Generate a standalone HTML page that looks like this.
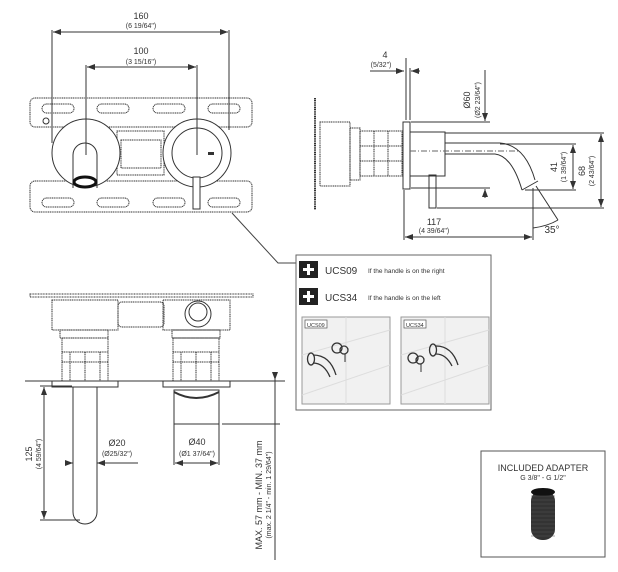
<!DOCTYPE html>
<html><head><meta charset="utf-8"><style>
html,body{margin:0;padding:0;background:#fff;}
svg{display:block;font-family:"Liberation Sans",sans-serif;}
</style></head><body>
<svg width="618" height="572" viewBox="0 0 618 572" xmlns="http://www.w3.org/2000/svg">
<defs>
<marker id="a" markerWidth="8" markerHeight="6" refX="8" refY="3" orient="auto-start-reverse" markerUnits="userSpaceOnUse"><path d="M0,0 L8,3 L0,6z" fill="#333"/></marker>
</defs>
<g fill="none" stroke="#333" stroke-width="1">
<!-- TOP VIEW -->
<rect x="30" y="98" width="222" height="29" rx="5" stroke-dasharray="1.2 0.6"/>
<rect x="30" y="181" width="222" height="31" rx="5" stroke-dasharray="1.2 0.6"/>
<g stroke-dasharray="1.2 0.6">
<rect x="42" y="104" width="32" height="9" rx="4.5"/><rect x="97" y="104" width="32" height="9" rx="4.5"/><rect x="153" y="104" width="32" height="9" rx="4.5"/><rect x="208" y="104" width="32" height="9" rx="4.5"/>
<rect x="42" y="198" width="32" height="9" rx="4.5"/><rect x="97" y="198" width="32" height="9" rx="4.5"/><rect x="153" y="198" width="32" height="9" rx="4.5"/><rect x="208" y="198" width="32" height="9" rx="4.5"/>
<rect x="117" y="131" width="47" height="44"/><rect x="121" y="140" width="40" height="28"/>
</g>
<circle cx="46" cy="121" r="3"/>
<circle cx="86" cy="153" r="34" fill="#fff" stroke="#333"/>
<path d="M73,188 V155 a12,12 0 0 1 24,0 V188" stroke="#333"/>
<ellipse cx="85" cy="182" rx="11" ry="5" stroke="#111" stroke-width="3"/>
<circle cx="197" cy="153" r="34" fill="#fff" stroke="#333"/>
<circle cx="197" cy="153" r="25" stroke="#333"/>
<rect x="193" y="177" width="7" height="32" fill="#fff" stroke="#333"/>
<rect x="208" y="152" width="6" height="3" fill="#333" stroke="none"/>
<line x1="52" y1="30" x2="52" y2="143"/><line x1="229" y1="30" x2="229" y2="130"/>
<line x1="86" y1="65" x2="86" y2="155"/><line x1="197" y1="65" x2="197" y2="155"/>
<line x1="53" y1="32" x2="228" y2="32" marker-start="url(#a)" marker-end="url(#a)"/>
<line x1="87" y1="67" x2="196" y2="67" marker-start="url(#a)" marker-end="url(#a)"/>
<polyline points="232,213 278,263 296,263" stroke="#444"/>
<!-- SIDE VIEW -->
<line x1="315" y1="98" x2="315" y2="210" stroke-dasharray="1.2 0.6" stroke-width="2"/>
<rect x="320" y="122" width="30" height="64" stroke-dasharray="1.2 0.6"/>
<rect x="350" y="128" width="10" height="52" stroke-dasharray="1.2 0.6"/>
<rect x="360" y="131" width="42" height="45" stroke-dasharray="1.2 0.6"/>
<line x1="360" y1="146" x2="402" y2="146" stroke-dasharray="1.2 0.6"/><line x1="360" y1="161" x2="402" y2="161" stroke-dasharray="1.2 0.6"/>
<line x1="374" y1="131" x2="374" y2="176" stroke-dasharray="1.2 0.6"/><line x1="388" y1="131" x2="388" y2="176" stroke-dasharray="1.2 0.6"/>
<rect x="403" y="122" width="7" height="67"/>
<rect x="410" y="132" width="35" height="44"/>
<path d="M445,143 H500 Q525,145 535,180 M445,154 H495 Q512,156 522,190 M522,190 L538,181"/>
<line x1="410" y1="151" x2="520" y2="151" stroke="#666" stroke-dasharray="6 2 1 2"/>
<rect x="429" y="175" width="7" height="33"/>
<line x1="406" y1="58" x2="406" y2="120"/><line x1="410" y1="68" x2="410" y2="120"/>
<line x1="370" y1="71" x2="404" y2="71" marker-end="url(#a)"/><line x1="420" y1="71" x2="411" y2="71" marker-end="url(#a)"/>
<line x1="411" y1="122" x2="490" y2="122"/><line x1="411" y1="188" x2="490" y2="188"/>
<line x1="485" y1="70" x2="485" y2="121" marker-end="url(#a)"/><line x1="485" y1="198" x2="485" y2="189" marker-end="url(#a)"/>
<line x1="500" y1="144" x2="576" y2="144"/><line x1="525" y1="190" x2="576" y2="190"/>
<line x1="573" y1="145" x2="573" y2="189" marker-start="url(#a)" marker-end="url(#a)"/>
<line x1="445" y1="133" x2="604" y2="133"/><line x1="437" y1="208" x2="604" y2="208"/>
<line x1="601" y1="134" x2="601" y2="207" marker-start="url(#a)" marker-end="url(#a)"/>
<line x1="404" y1="190" x2="404" y2="240"/><line x1="533" y1="188" x2="533" y2="240"/>
<line x1="405" y1="237" x2="532" y2="237" marker-start="url(#a)" marker-end="url(#a)"/>
<line x1="536" y1="186" x2="558" y2="220"/><path d="M533,228 Q548,226 558,220"/>
<!-- FRONT SECTION -->
<rect x="30" y="294" width="223" height="3" stroke-dasharray="1 0.6"/>
<g stroke-dasharray="1.2 0.6">
<rect x="52" y="300" width="66" height="30"/><rect x="118" y="302" width="46" height="25" rx="4"/><rect x="163" y="300" width="67" height="30"/>
<rect x="60" y="330" width="48" height="8"/><rect x="172" y="330" width="48" height="8"/>
<rect x="62" y="338" width="46" height="43"/><rect x="173" y="338" width="46" height="43"/>
<line x1="62" y1="352" x2="108" y2="352"/><line x1="173" y1="352" x2="219" y2="352"/>
<line x1="62" y1="362" x2="108" y2="362"/><line x1="173" y1="362" x2="219" y2="362"/>
<line x1="70" y1="352" x2="70" y2="381"/><line x1="85" y1="352" x2="85" y2="381"/><line x1="100" y1="352" x2="100" y2="381"/>
<line x1="181" y1="352" x2="181" y2="381"/><line x1="196" y1="352" x2="196" y2="381"/><line x1="211" y1="352" x2="211" y2="381"/>
</g>
<circle cx="198" cy="314" r="13"/><circle cx="198" cy="312" r="9"/>
<line x1="25" y1="381" x2="285" y2="381"/>
<rect x="52" y="381" width="66" height="6"/><rect x="163" y="381" width="67" height="6"/>
<path d="M73,387 V512 a12,12 0 0 0 24,0 V387"/>
<rect x="174" y="390" width="45" height="34"/><path d="M174,392 Q196,404 219,392" stroke-width="2"/>
<line x1="40" y1="386" x2="72" y2="386"/><line x1="40" y1="520" x2="80" y2="520"/>
<line x1="44" y1="387" x2="44" y2="519" marker-start="url(#a)" marker-end="url(#a)"/>
<line x1="65" y1="463" x2="73" y2="463" marker-end="url(#a)"/><line x1="138" y1="463" x2="97" y2="463" marker-end="url(#a)"/>
<line x1="174" y1="424" x2="174" y2="465"/><line x1="219" y1="424" x2="219" y2="465"/>
<line x1="175" y1="463" x2="218" y2="463" marker-start="url(#a)" marker-end="url(#a)"/>
<line x1="222" y1="424" x2="280" y2="424"/>
<line x1="275" y1="372" x2="275" y2="380" marker-end="url(#a)"/>
<line x1="275" y1="380" x2="275" y2="560"/>
<!-- BOX -->
<rect x="296" y="255" width="195" height="155" stroke="#666"/>
<rect x="302" y="317" width="88" height="87" fill="#f1f1f1" stroke="#999"/>
<rect x="401" y="317" width="88" height="87" fill="#f1f1f1" stroke="#999"/>
<path d="M302,355 L390,330 M302,395 L390,365 M346,317 V404 M401,355 L489,330 M401,395 L489,365 M445,317 V404" stroke="#ddd"/>
<rect x="305" y="320" width="22" height="8" fill="#fff" stroke="#555" stroke-width="0.7"/>
<rect x="404" y="320" width="22" height="8" fill="#fff" stroke="#555" stroke-width="0.7"/>
<path d="M313,355 Q330,355 336,375 M313,363 Q324,363 330,377" stroke-width="1.3"/><ellipse cx="311" cy="359" rx="3.5" ry="6" stroke-width="1.3"/>
<circle cx="337" cy="348" r="5" stroke-width="1.3"/><circle cx="344" cy="350" r="4" stroke-width="1.3"/><line x1="345" y1="354" x2="345" y2="362"/>
<path d="M436,346 Q452,346 458,365 M436,354 Q446,354 452,366" stroke-width="1.3"/><ellipse cx="433" cy="350" rx="3.5" ry="6" stroke-width="1.3"/>
<circle cx="413" cy="358" r="5" stroke-width="1.3"/><circle cx="420" cy="360" r="4" stroke-width="1.3"/><line x1="421" y1="364" x2="421" y2="372"/>
<!-- ADAPTER -->
<rect x="481" y="451" width="124" height="106" stroke="#555"/>
</g>
<rect x="299" y="261" width="19" height="17" fill="#222"/>
<rect x="299" y="288" width="19" height="17" fill="#222"/>
<path d="M308.5,264 v11 M303,269.5 h11" stroke="#fff" stroke-width="3"/>
<path d="M308.5,291 v11 M303,296.5 h11" stroke="#fff" stroke-width="3"/>
<rect x="531" y="490" width="24" height="50" rx="11" fill="#333"/>
<ellipse cx="543" cy="492" rx="12" ry="4" fill="#111"/>
<g stroke="#555" stroke-width="0.6"><path d="M531,496h24M531,500h24M531,504h24M531,508h24M531,512h24M531,516h24M531,520h24M531,524h24M531,528h24M531,532h24M531,536h24"/></g>
<g fill="#333" text-anchor="middle">
<text x="141" y="19" font-size="9">160</text><text x="141" y="28" font-size="7">(6 19/64")</text>
<text x="141" y="54" font-size="9">100</text><text x="141" y="64" font-size="7">(3 15/16")</text>
<text x="385" y="58" font-size="9">4</text><text x="381" y="67" font-size="7">(5/32")</text>
<text x="117" y="446" font-size="9">Ø20</text><text x="117" y="456" font-size="7">(Ø25/32")</text>
<text x="197" y="445" font-size="9">Ø40</text><text x="197" y="456" font-size="7">(Ø1 37/64")</text>
<text x="434" y="225" font-size="9">117</text><text x="434" y="233" font-size="7">(4 39/64")</text>
<text x="552" y="233" font-size="10">35°</text>
<text x="543" y="471" font-size="9">INCLUDED ADAPTER</text><text x="543" y="480" font-size="7">G 3/8" - G 1/2"</text>
</g>
<g fill="#333">
<text x="470" y="100" font-size="9" transform="rotate(-90 470 100)" text-anchor="middle">Ø60</text>
<text x="480" y="100" font-size="7" transform="rotate(-90 480 100)" text-anchor="middle">(Ø2 23/64")</text>
<text x="557" y="167" font-size="9" transform="rotate(-90 557 167)" text-anchor="middle">41</text>
<text x="566" y="167" font-size="7" transform="rotate(-90 566 167)" text-anchor="middle">(1 39/64")</text>
<text x="585" y="171" font-size="9" transform="rotate(-90 585 171)" text-anchor="middle">68</text>
<text x="594" y="171" font-size="7" transform="rotate(-90 594 171)" text-anchor="middle">(2 43/64")</text>
<text x="32" y="454" font-size="9" transform="rotate(-90 32 454)" text-anchor="middle">125</text>
<text x="41" y="454" font-size="7" transform="rotate(-90 41 454)" text-anchor="middle">(4 59/64")</text>
<text x="262" y="495" font-size="9" transform="rotate(-90 262 495)" text-anchor="middle">MAX. 57 mm - MIN. 37 mm</text>
<text x="271" y="495" font-size="7" transform="rotate(-90 271 495)" text-anchor="middle">(max. 2 1/4" - min. 1 29/64")</text>
<text x="325" y="274" font-size="10">UCS09</text><text x="368" y="273" font-size="6.5">If the handle is on the right</text>
<text x="325" y="301" font-size="10">UCS34</text><text x="368" y="300" font-size="6.5">If the handle is on the left</text>
<text x="307" y="327" font-size="5.5">UCS09</text><text x="406" y="327" font-size="5.5">UCS34</text>
</g>
</svg>
</body></html>
